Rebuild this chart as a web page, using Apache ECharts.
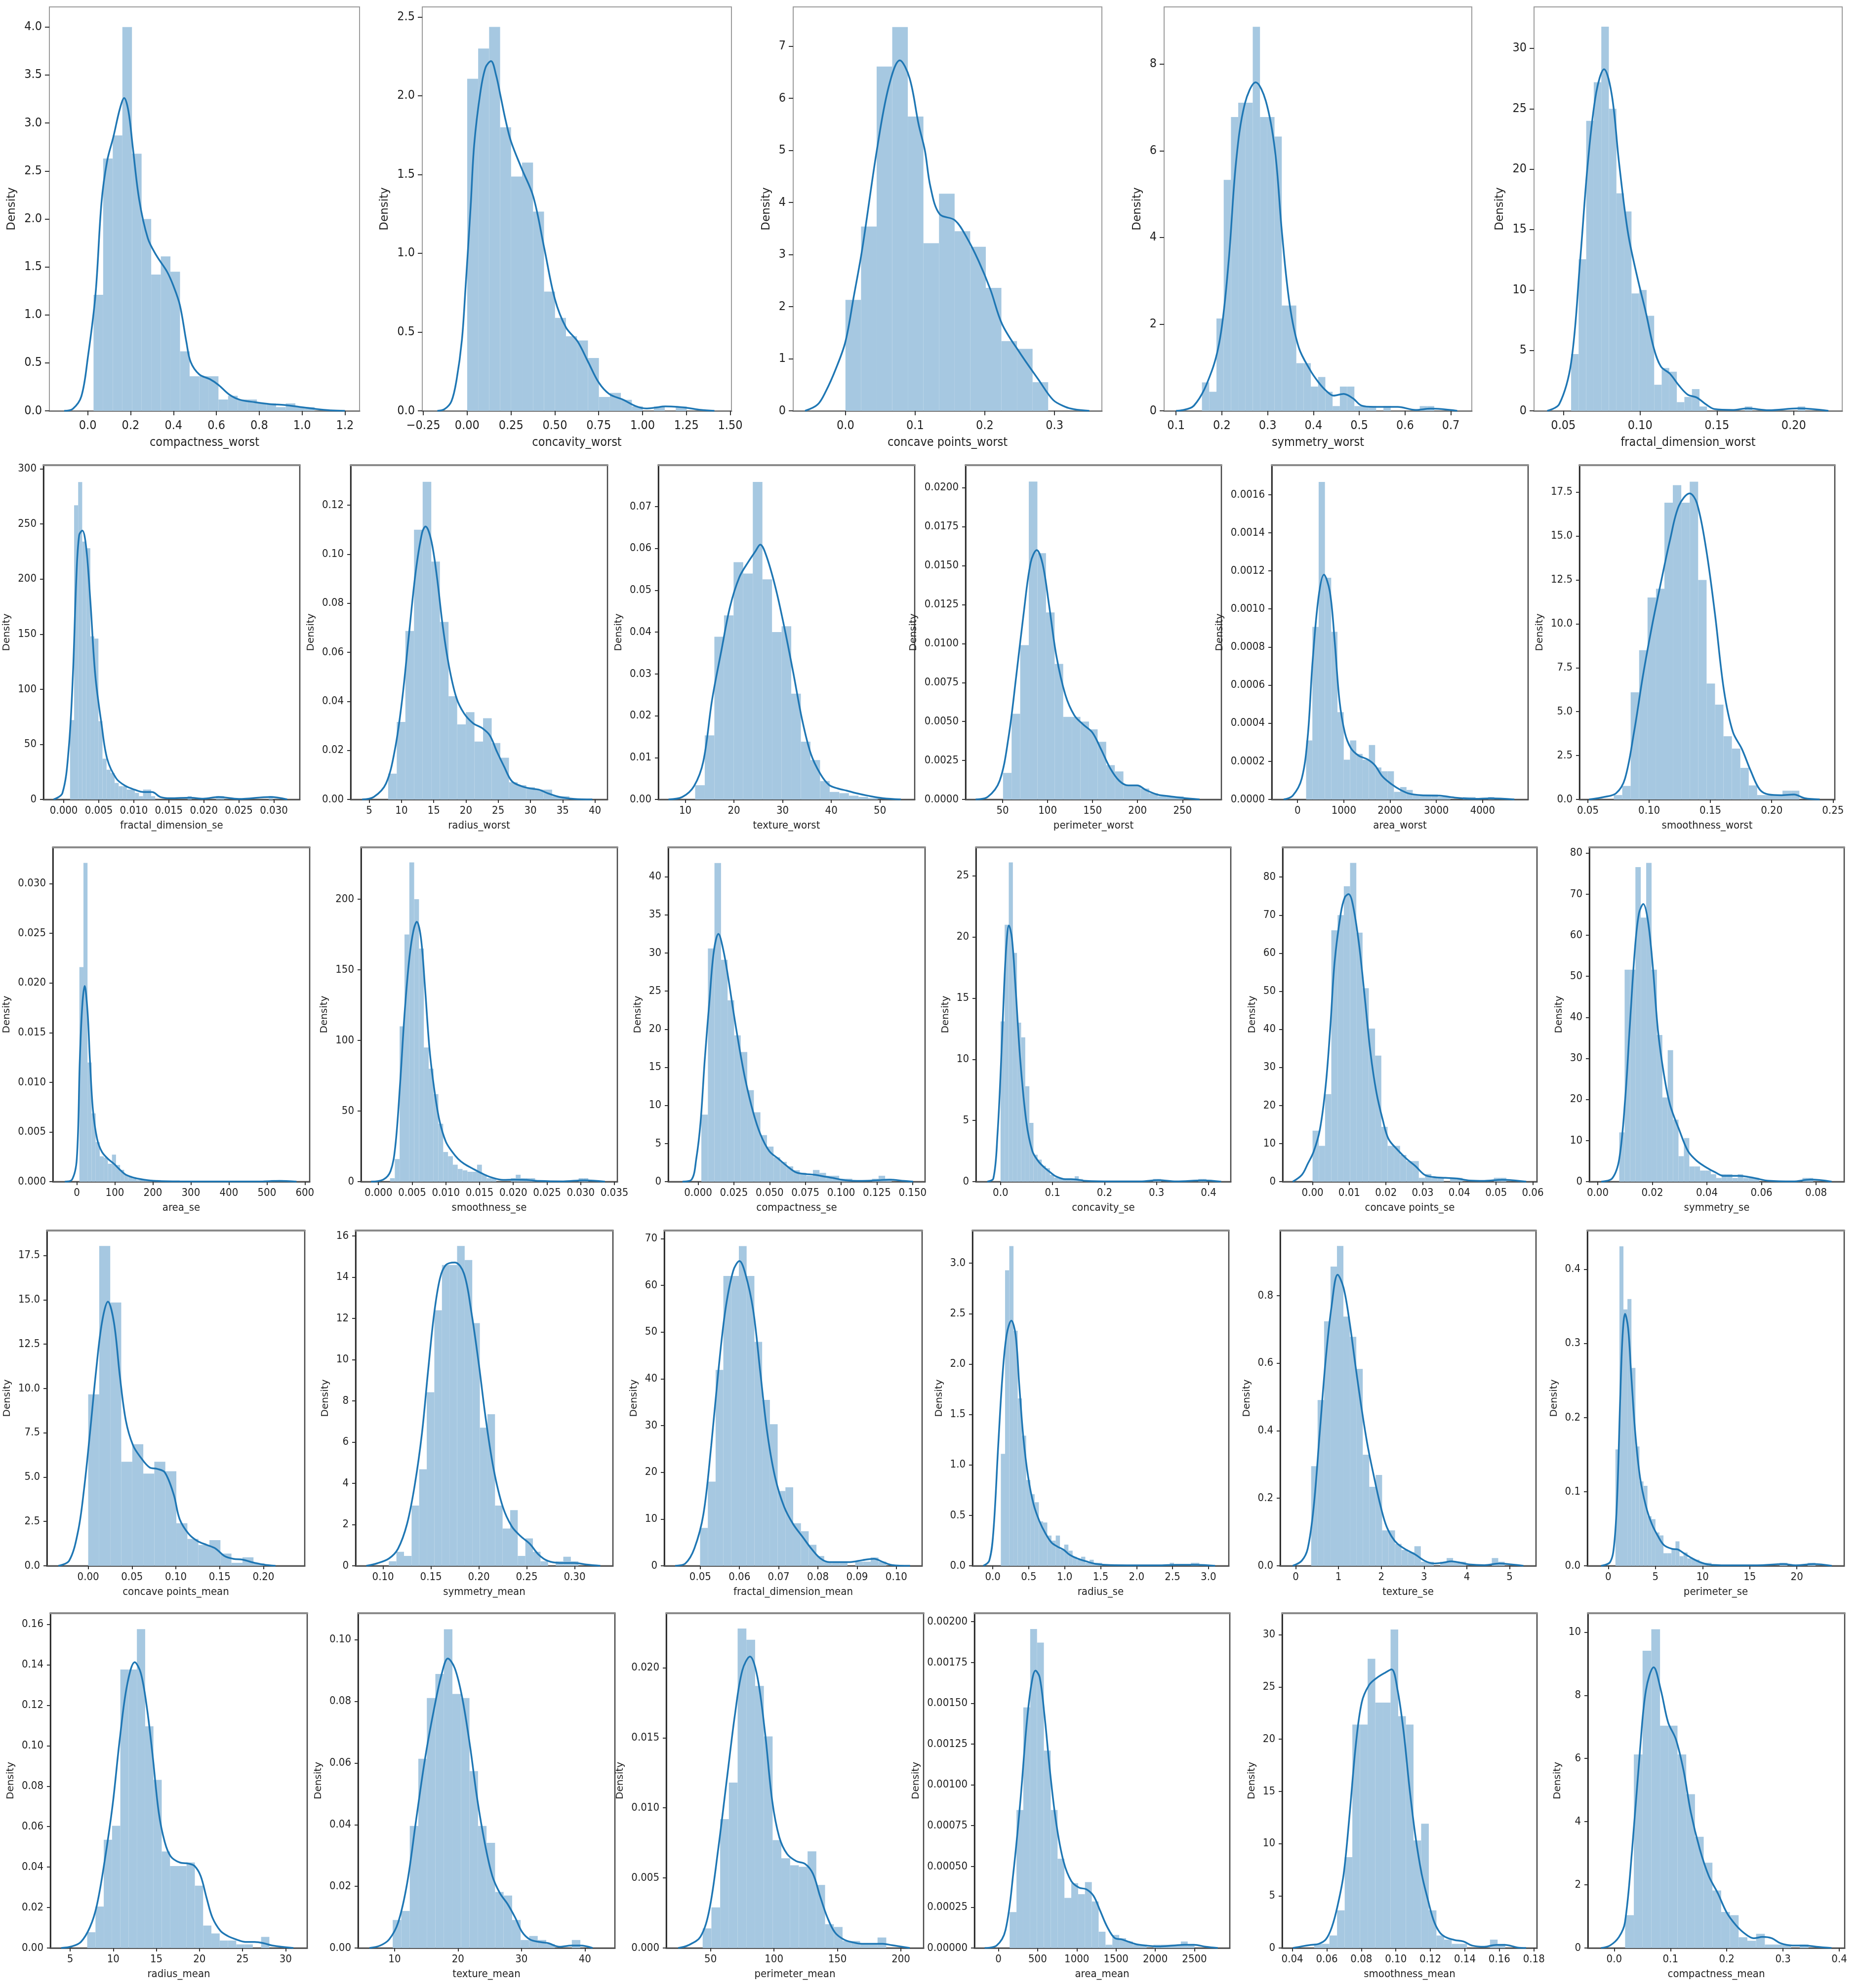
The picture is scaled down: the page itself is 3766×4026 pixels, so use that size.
<!DOCTYPE html>
<html>
<head>
<meta charset="utf-8">
<script src="https://cdn.jsdelivr.net/npm/echarts@6/dist/echarts.min.js"></script>
<style>
html, body { margin: 0; padding: 0; background: #fff; }
#chart { width: 3766px; height: 4026px; }
</style>
</head>
<body>
<div id="chart"></div>
<script>
// feature order, left to right, top to bottom
var features = ['compactness_worst', 'concavity_worst', 'concave points_worst', 'symmetry_worst', 'fractal_dimension_worst',
  'fractal_dimension_se', 'radius_worst', 'texture_worst', 'perimeter_worst', 'area_worst', 'smoothness_worst',
  'area_se', 'smoothness_se', 'compactness_se', 'concavity_se', 'concave points_se', 'symmetry_se',
  'concave points_mean', 'symmetry_mean', 'fractal_dimension_mean', 'radius_se', 'texture_se', 'perimeter_se',
  'radius_mean', 'texture_mean', 'perimeter_mean', 'area_mean', 'smoothness_mean', 'compactness_mean'];

// histogram bins: first edge and width
var binStart = [0.027, 0, 0, 0.1565, 0.05504, 0.000895, 7.93, 12.02, 50.41, 185.2, 0.07117, 6.802, 0.001713, 0.002252, 0, 0, 0.007882, 0, 0.106, 0.04996, 0.1115, 0.3602, 0.757, 6.981, 9.71, 43.79, 143.5, 0.05263, 0.01938];
var binWidth = [0.04483, 0.0626, 0.02238, 0.015853, 0.004918, 0.000579, 1.3386, 1.975, 9.562, 135.63, 0.006882, 10.708, 0.0007175, 0.00459, 0.00792, 0.001703, 0.001974, 0.012575, 0.00792, 0.001978, 0.05876, 0.1508, 0.4245, 0.9605, 1.344, 6.891, 87.3, 0.004431, 0.01552];

// bar heights (density)
var hist_compactness_worst = [1.21, 2.63, 2.87, 4.0, 2.68, 2.0, 1.42, 1.61, 1.45, 0.62, 0.36, 0.36, 0.36, 0.118, 0.157, 0.118, 0.118, 0.078, 0.078, 0.039, 0.078, 0.039, 0.039];
var hist_concavity_worst = [2.108, 2.30, 2.437, 1.80, 1.487, 1.576, 1.265, 0.757, 0.59, 0.473, 0.447, 0.335, 0.088, 0.114, 0.07, 0.028, 0, 0.028, 0, 0.028];
var hist_concave_points_worst = [2.13, 3.54, 6.61, 7.37, 5.65, 3.22, 4.17, 3.45, 3.15, 2.36, 1.34, 1.19, 0.55];
var hist_symmetry_worst = [0.656, 0.44, 2.13, 5.33, 6.78, 7.11, 7.11, 8.86, 6.78, 6.78, 6.33, 2.43, 2.43, 1.1, 1.1, 0.56, 0.78, 0.44, 0.11, 0.56, 0.56, 0.11, 0.11, 0.11, 0, 0.11, 0, 0, 0, 0, 0.11, 0.11];
var hist_fractal_dimension_worst = [4.70, 12.55, 24.0, 27.2, 31.8, 25.0, 18.0, 16.5, 9.72, 10.0, 7.87, 2.16, 3.55, 3.24, 0.72, 1.15, 1.8, 0.36, 0, 0, 0, 0, 0, 0.36, 0, 0, 0, 0, 0, 0, 0.36];
var hist_fractal_dimension_se = [72, 267, 288, 234, 228, 148, 146, 71, 37, 27, 24, 15, 12, 12, 9, 9, 6, 3, 9, 9, 3, 0, 0, 0, 0, 0, 0, 0, 0, 3, 0, 0, 0, 0, 0, 0, 3, 3, 0, 0, 0, 0, 0, 0, 0, 0, 0, 0, 0, 3];
var hist_radius_worst = [0.0105, 0.0316, 0.0687, 0.110, 0.1295, 0.097, 0.0724, 0.0421, 0.0306, 0.0356, 0.0236, 0.0331, 0.023, 0.017, 0.007, 0.0058, 0.005, 0.004, 0.004, 0.0013, 0.0013];
var hist_texture_worst = [0.0034, 0.0153, 0.0389, 0.044, 0.0567, 0.054, 0.0759, 0.0526, 0.040, 0.0414, 0.0253, 0.0138, 0.0094, 0.0044, 0.0018, 0.0015, 0.0009, 0.0006, 0.0003];
var hist_perimeter_worst = [0.0017, 0.0055, 0.0099, 0.0204, 0.0158, 0.0120, 0.0087, 0.0053, 0.0053, 0.0050, 0.0045, 0.0037, 0.0022, 0.0018, 0.0009, 0.0009, 0.0007, 0.0004, 0.0002, 0.0002, 0.0002];
var hist_area_worst = [0.00031, 0.000906, 0.001667, 0.001164, 0.00088, 0.000458, 0.000209, 0.00031, 0.000239, 0.000209, 0.000286, 0.000168, 0.000148, 0.000148, 0.00004, 0.000065, 0.00005, 0.000026, 0.000026, 0.000026, 0.000026, 0.000013, 0.000013, 0, 0, 0.000013, 0.000013, 0, 0, 0.000013];
var hist_smoothness_worst = [0.25, 0.77, 6.1, 8.5, 11.5, 12.0, 16.9, 17.9, 16.9, 18.1, 12.5, 6.6, 5.4, 3.6, 2.9, 1.8, 0.8, 0.25, 0.25, 0.25, 0.5, 0.5];
var hist_area_se = [0.0216, 0.0321, 0.012, 0.00687, 0.00398, 0.00255, 0.00242, 0.0018, 0.00272, 0.00168, 0.00119, 0.0007, 0.00057, 0.00033, 0.00016, 0.00016, 0.00016, 0.00016, 0, 0.00016,
  0, 0, 0, 0, 0, 0, 0, 0, 0, 0, 0, 0, 0, 0, 0, 0, 0, 0, 0, 0, 0, 0, 0, 0, 0, 0, 0, 0.00016, 0, 0.00016];
var hist_smoothness_se = [2.45, 16, 110, 175, 226, 200, 165, 95, 80, 62, 41, 21, 18, 12, 9, 8, 7, 7, 12, 5, 2.45, 2.45, 0, 0, 0, 2.45, 4.9, 2.45, 2.45, 2.45, 0, 0, 0, 0, 0, 0, 0, 0, 0, 2.45, 2.45];
var hist_compactness_se = [8.8, 30.6, 41.8, 29.1, 23.8, 19.2, 17.0, 12.0, 9.1, 6.1, 4.6, 3.2, 2.6, 2.0, 1.5, 1.15, 0.77, 1.53, 1.15, 0.77, 0.77, 0.38, 0.38, 0, 0, 0, 0.38, 0.77, 0.38];
var hist_concavity_se = [13.1, 21.0, 26.1, 18.7, 13.0, 11.8, 7.8, 4.8, 2.2, 1.8, 1.3, 1.1, 0.56, 0.33, 0.33, 0.22, 0.22, 0.22, 0.44, 0.22,
  0, 0, 0, 0, 0, 0, 0, 0, 0, 0, 0, 0, 0, 0, 0, 0, 0, 0.22, 0.22, 0, 0, 0, 0, 0, 0, 0, 0, 0, 0.22, 0.22];
var hist_concave_points_se = [13.4, 9.4, 23, 66, 70, 77.6, 83.7, 65.4, 50.8, 40.2, 33.1, 14.4, 9.4, 9.4, 7.0, 5.4, 5.4, 1.0, 2.0, 1.0, 1.0, 0, 1.0, 1.0, 0, 0, 0, 0, 0, 1.0, 1.0];
var hist_symmetry_se = [12, 51.6, 51.6, 76.6, 64.3, 77.6, 51.6, 35.7, 20.5, 32, 15.1, 6.2, 10.6, 3.7, 3.7, 2.7, 2.7, 1.8, 0.9, 1.8, 1.8, 0.9, 1.8, 0.9, 0.9, 0.9, 0, 0, 0, 0, 0, 0, 0, 0, 0.9, 0.9];
var hist_concave_points_mean = [9.67, 18.04, 14.85, 5.87, 6.86, 5.2, 5.87, 5.33, 2.4, 1.52, 1.18, 1.45, 0.69, 0.17, 0.48, 0.14];
var hist_symmetry_mean = [0.22, 0.68, 0.48, 2.92, 4.68, 8.42, 12.39, 14.59, 14.59, 15.51, 14.83, 11.77, 6.7, 7.35, 2.92, 1.81, 2.7, 0.48, 1.33, 0.68, 0.22, 0, 0.22, 0.44, 0.22];
var hist_fractal_dimension_mean = [8.1, 18.0, 41.9, 62, 62, 68.4, 62, 47.9, 35.5, 30.3, 16.0, 16.8, 9.1, 7.4, 4.5, 2.1, 0.89, 0.89, 0.89, 0, 0.89, 0.89, 1.78, 0.89];
var hist_radius_se = [1.11, 2.93, 3.17, 2.33, 1.66, 1.29, 0.85, 0.71, 0.63, 0.44, 0.43, 0.30, 0.25, 0.3, 0.16, 0.21, 0.15, 0.09, 0.06, 0.09, 0.03, 0.06, 0.03, 0.03,
  0, 0, 0, 0, 0, 0, 0, 0, 0, 0, 0, 0, 0, 0, 0, 0, 0.03, 0, 0, 0, 0, 0.03, 0.03];
var hist_texture_se = [0.295, 0.491, 0.724, 0.886, 0.947, 0.738, 0.678, 0.583, 0.329, 0.234, 0.269, 0.105, 0.105, 0.065, 0.047, 0.040, 0.058, 0.012, 0.012, 0, 0.012, 0.023, 0.012, 0.012, 0, 0, 0, 0, 0.023, 0.012];
var hist_perimeter_se = [0.157, 0.431, 0.346, 0.36, 0.267, 0.161, 0.114, 0.108, 0.067, 0.063, 0.045, 0.041, 0.017, 0.017, 0.023, 0.033, 0.013, 0.018, 0.01, 0.009, 0.0083, 0.0041, 0.0041, 0.0041,
  0, 0, 0, 0, 0, 0, 0, 0, 0, 0, 0, 0, 0, 0, 0, 0, 0, 0.0041, 0.0041, 0, 0, 0, 0, 0, 0.0041, 0.0041];
var hist_radius_mean = [0.0078, 0.0205, 0.0535, 0.0604, 0.1377, 0.1377, 0.1576, 0.1096, 0.0831, 0.0477, 0.0405, 0.0405, 0.0423, 0.0308, 0.0111, 0.0072, 0.0037, 0.0037, 0.0018, 0.0018, 0, 0.0055];
var hist_texture_mean = [0.0091, 0.012, 0.0396, 0.0614, 0.0811, 0.0889, 0.1034, 0.0824, 0.0811, 0.0574, 0.0396, 0.0341, 0.0182, 0.017, 0.0091, 0.0026, 0.0039, 0.0026, 0.0013, 0, 0, 0.0026];
var hist_perimeter_mean = [0.0014, 0.0029, 0.0092, 0.0118, 0.0228, 0.022, 0.0187, 0.0151, 0.0077, 0.0064, 0.0059, 0.0058, 0.0069, 0.0045, 0.0017, 0.0015, 0.0005, 0.0005, 0.00025, 0.00025, 0.00075];
var hist_area_mean = [0.00022, 0.000846, 0.001475, 0.001955, 0.001872, 0.00121, 0.000846, 0.000547, 0.000307, 0.000397, 0.00033, 0.000404, 0.000285, 0.0001, 0.00002, 0.00008, 0.00006, 0.00004, 0.00002, 0.00002, 0, 0.00002, 0.00002, 0.00002, 0.00002, 0.00004, 0.00002];
var hist_smoothness_mean = [0.4, 0.4, 1.2, 3.6, 8.7, 21.4, 21.4, 27.7, 23.5, 23.5, 30.5, 22.2, 21.4, 10.3, 11.9, 3.6, 1.2, 0.8, 0.4, 0.4, 0, 0, 0, 0.8, 0.4];
var hist_compactness_mean = [1.04, 6.13, 9.41, 10.09, 7.04, 7.04, 6.13, 4.87, 3.52, 2.7, 1.82, 1.14, 1.04, 0.34, 0.23, 0.45, 0.11, 0.11, 0.11, 0, 0.11];

// kde curves, [x, density]
var kde_compactness_worst = [[-0.11,0],[-0.07,0.02],[-0.03,0.15],[0,0.55],[0.036,1.21],[0.064,2.17],[0.09,2.6],[0.12,2.86],[0.15,3.15],[0.17,3.26],[0.19,3.12],[0.21,2.75],[0.24,2.2],[0.28,1.8],[0.32,1.62],[0.37,1.45],[0.4,1.3],[0.43,1.1],[0.46,0.72],[0.48,0.51],[0.52,0.38],[0.57,0.33],[0.61,0.27],[0.66,0.17],[0.71,0.115],[0.78,0.09],[0.85,0.07],[0.92,0.06],[0.99,0.04],[1.06,0.02],[1.13,0.005],[1.2,0]];
var kde_concavity_worst = [[-0.17,0],[-0.13,0.01],[-0.09,0.06],[-0.06,0.2],[-0.03,0.45],[-0.01,0.77],[0.02,1.3],[0.04,1.69],[0.075,2.02],[0.105,2.18],[0.136,2.22],[0.165,2.13],[0.19,2.0],[0.22,1.84],[0.25,1.71],[0.31,1.54],[0.377,1.36],[0.44,1.03],[0.5,0.71],[0.563,0.53],[0.63,0.44],[0.69,0.31],[0.75,0.18],[0.81,0.107],[0.89,0.07],[0.96,0.03],[1.02,0.015],[1.07,0.02],[1.13,0.028],[1.2,0.025],[1.26,0.018],[1.33,0.006],[1.41,0]];
var kde_concave_points_worst = [[-0.058,0],[-0.04,0.12],[-0.028,0.38],[-0.014,0.8],[0,1.33],[0.012,2.2],[0.024,3.1],[0.045,5.0],[0.062,6.22],[0.078,6.73],[0.092,6.39],[0.105,5.5],[0.114,5.0],[0.122,4.3],[0.135,3.78],[0.157,3.66],[0.174,3.33],[0.191,2.88],[0.208,2.33],[0.225,1.66],[0.251,1.1],[0.277,0.6],[0.298,0.21],[0.315,0.08],[0.328,0.03],[0.35,0]];
var kde_symmetry_worst = [[0.1,0],[0.139,0.12],[0.178,0.92],[0.198,1.8],[0.215,3.47],[0.231,5.74],[0.25,7.08],[0.274,7.58],[0.296,7.15],[0.316,6.01],[0.331,4.14],[0.348,2.46],[0.368,1.46],[0.394,0.92],[0.411,0.66],[0.427,0.47],[0.444,0.35],[0.466,0.39],[0.486,0.29],[0.505,0.12],[0.531,0.09],[0.584,0.09],[0.623,0.02],[0.656,0.05],[0.714,0]];
var kde_fractal_dimension_worst = [[0.0395,0],[0.0473,0.55],[0.0551,4.03],[0.0609,12.4],[0.066,20.6],[0.0714,26.35],[0.0765,28.27],[0.0816,26.1],[0.0862,20.6],[0.092,14.8],[0.0979,11.2],[0.1038,8.1],[0.1088,5.23],[0.1135,3.67],[0.1194,3.07],[0.1252,2.11],[0.131,1.34],[0.1369,1.1],[0.1427,0.55],[0.1486,0.14],[0.16,0.07],[0.17,0.2],[0.1837,0.05],[0.203,0.2],[0.2226,0]];
var kde_fractal_dimension_se = [[-0.00145,0],[-0.0002,5.6],[0.0007,45.7],[0.0013,112.6],[0.0018,202],[0.0022,240],[0.00265,244],[0.0032,228.6],[0.0038,179.6],[0.0045,112.6],[0.0054,68],[0.0062,36.8],[0.0075,19],[0.0088,12.3],[0.0101,8.9],[0.0114,6.7],[0.0126,6.7],[0.0138,2.2],[0.0152,1.1],[0.018,1.6],[0.0199,0.7],[0.0221,2.2],[0.025,0.4],[0.0295,2.2],[0.0319,0]];
var kde_radius_worst = [[3.9,0],[5.7,0.001],[7.6,0.0065],[9.0,0.0206],[10.1,0.0406],[11.1,0.0657],[12.2,0.0927],[13.2,0.1088],[13.73,0.1113],[14.6,0.1058],[15.5,0.0907],[16.4,0.0707],[17.35,0.0546],[18.5,0.0416],[19.7,0.0351],[21.1,0.0311],[22.5,0.0291],[23.7,0.0261],[24.8,0.0195],[25.9,0.0135],[27.1,0.0075],[28.5,0.0055],[29.9,0.0045],[31.3,0.004],[32.7,0.0025],[34.5,0.001],[36.8,0.0002],[39.6,0]];
var kde_texture_worst = [[6.55,0],[9.4,0.0006],[11.8,0.0032],[13.7,0.0091],[15.5,0.0238],[17.4,0.0355],[19.2,0.0461],[21.1,0.0531],[22.9,0.0567],[24.4,0.0593],[25.4,0.0609],[26.6,0.0584],[28.5,0.0508],[30.3,0.0414],[32.2,0.0302],[34.0,0.0191],[35.8,0.0109],[37.7,0.0062],[39.5,0.0035],[41.4,0.0026],[43.2,0.0021],[45.1,0.0015],[47.5,0.0009],[50.6,0.0003],[54.3,0]];
var kde_perimeter_worst = [[20,0],[33.4,0.00016],[46.7,0.0012],[56.6,0.004],[65.3,0.008],[73.3,0.0119],[81.2,0.0152],[87.9,0.016],[94.5,0.0151],[101.8,0.0124],[109.8,0.0092],[119.8,0.0067],[129.7,0.0054],[139.7,0.0048],[149.7,0.0043],[159.6,0.0032],[169.6,0.002],[179.6,0.0012],[189.5,0.0009],[199.5,0.0009],[209.5,0.0006],[222.8,0.0003],[236,0.0002],[249.3,0.0001],[269,0]];
var kde_area_worst = [[-298,0],[-104,0.00002],[91,0.00011],[220,0.00033],[324,0.00072],[453,0.00106],[570,0.00118],[699,0.00109],[803,0.00083],[906,0.00052],[1023,0.00035],[1152,0.00027],[1320,0.00023],[1515,0.00021],[1670,0.00018],[1838,0.00012],[2032,0.00008],[2227,0.00005],[2421,0.00003],[2680,0.000022],[3068,0.00002],[3392,0.00001],[3845,0.000003],[4168,0.000006],[4686,0]];
var kde_smoothness_worst = [[0.051,0],[0.0632,0.14],[0.073,0.35],[0.0803,1.19],[0.0877,3.85],[0.095,7.07],[0.1023,9.87],[0.1097,12.39],[0.117,14.77],[0.1243,16.73],[0.1331,17.43],[0.139,16.87],[0.1463,14.35],[0.1537,10.57],[0.161,6.23],[0.1683,3.85],[0.1757,2.87],[0.183,1.61],[0.1903,0.56],[0.1977,0.28],[0.2075,0.24],[0.2182,0.28],[0.227,0.07],[0.2392,0]];
var kde_area_se = [[-31.5,0],[-12.6,0.0002],[0,0.0023],[7.9,0.0122],[14.2,0.0176],[20.5,0.0197],[28.3,0.0171],[34.6,0.0122],[42.5,0.0072],[53.5,0.0043],[66.1,0.003],[81.9,0.0023],[97.6,0.0018],[113.4,0.0012],[129,0.0007],[152.8,0.00037],[176,0.0002],[208,0.00007],[271,0.00002],[428,0.00001],[491,0.00003],[531,0.00007],[578,0]];
var kde_smoothness_se = [[-0.0011,0],[0.0007,1.4],[0.0018,7.5],[0.0025,24.9],[0.0032,68.3],[0.0039,120.5],[0.0046,158.8],[0.0052,177.9],[0.00568,184],[0.0063,172.7],[0.0069,138],[0.0076,92.7],[0.0084,61.4],[0.0091,42.3],[0.01,28.3],[0.0109,21.4],[0.0118,16.2],[0.0127,12.7],[0.014,9.2],[0.0154,5.7],[0.0167,3.1],[0.0185,1.2],[0.0202,1.4],[0.022,1.2],[0.0238,0.5],[0.0274,0.2],[0.0305,1],[0.0336,0]];
var kde_compactness_se = [[-0.0109,0],[-0.0046,0.26],[-0.0013,3.0],[0.0017,7.8],[0.0046,15.9],[0.008,23.9],[0.0109,30.1],[0.0142,32.5],[0.0176,30.4],[0.021,26.8],[0.0247,22.3],[0.0289,17.5],[0.0331,13.3],[0.0385,9.1],[0.0436,6.2],[0.0498,4.0],[0.0561,3.0],[0.0624,2.0],[0.0687,1.2],[0.075,1.0],[0.0812,0.9],[0.0875,0.7],[0.0938,0.5],[0.1022,0.2],[0.1147,0.1],[0.1273,0.2],[0.1336,0.26],[0.144,0.1],[0.1503,0]];
var kde_concavity_se = [[-0.0254,0],[-0.0138,0.26],[-0.0058,3.9],[0.0012,9.9],[0.0069,15.9],[0.0115,19.5],[0.0161,20.94],[0.0219,19.9],[0.0288,15.9],[0.038,9.9],[0.0496,4.9],[0.0611,2.5],[0.0726,1.67],[0.0841,1.16],[0.0957,0.76],[0.1072,0.42],[0.1245,0.2],[0.136,0.2],[0.1476,0.16],[0.1648,0.06],[0.211,0.02],[0.2686,0.02],[0.3032,0.12],[0.3378,0.02],[0.3896,0.1],[0.4242,0]];
var kde_concave_points_se = [[-0.0054,0],[-0.0029,1.8],[-0.0013,4.7],[0.0003,7.9],[0.002,13.7],[0.0036,25.4],[0.0049,41.5],[0.006,57.6],[0.0077,70.5],[0.0088,74.7],[0.0098,75.5],[0.0109,73.1],[0.0126,62.8],[0.0142,48.6],[0.0158,33.7],[0.0174,23.4],[0.0191,16.3],[0.0207,11.2],[0.0232,8.3],[0.0256,6.0],[0.028,4.1],[0.0305,1.8],[0.0329,1.2],[0.0362,1.0],[0.0395,0.8],[0.0427,0.3],[0.0468,0.2],[0.0517,0.5],[0.0582,0]];
var kde_symmetry_se = [[0.0013,0],[0.0053,0.8],[0.0079,5.6],[0.0101,20.5],[0.0118,38.4],[0.0136,56.4],[0.0151,65.3],[0.0167,67.6],[0.0184,63.5],[0.0202,52.2],[0.0221,36.6],[0.0243,25.9],[0.0265,18.7],[0.0298,12.7],[0.0331,7.4],[0.0364,5.0],[0.0397,3.5],[0.043,2.3],[0.0462,1.4],[0.0517,1.4],[0.0572,0.9],[0.0627,0.2],[0.0715,0.05],[0.078,0.5],[0.0857,0]];
var kde_concave_points_mean = [[-0.034,0],[-0.0218,0.28],[-0.0116,1.94],[-0.0048,4.3],[0.002,7.48],[0.0089,10.95],[0.0157,13.72],[0.0225,14.9],[0.0294,13.72],[0.0362,10.67],[0.043,8.18],[0.0512,6.79],[0.0601,6.1],[0.0703,5.54],[0.0785,5.47],[0.0874,5.27],[0.0976,4.02],[0.1044,2.63],[0.1147,1.8],[0.1249,1.39],[0.1352,1.18],[0.1454,0.97],[0.1556,0.55],[0.1659,0.39],[0.1761,0.35],[0.1863,0.21],[0.2,0.07],[0.2137,0]];
var kde_symmetry_mean = [[0.0825,0],[0.0938,0.12],[0.1063,0.36],[0.1156,0.83],[0.125,2.03],[0.1331,3.93],[0.1406,6.43],[0.1469,9.41],[0.1531,12.15],[0.1594,13.94],[0.1656,14.59],[0.175,14.71],[0.1844,14.18],[0.1919,12.39],[0.2,9.77],[0.2075,7.03],[0.2156,4.65],[0.225,2.86],[0.2344,1.91],[0.2438,1.43],[0.2531,1.07],[0.2625,0.54],[0.2719,0.24],[0.2844,0.14],[0.3,0.14],[0.3125,0.06],[0.3269,0]];
var kde_fractal_dimension_mean = [[0.0436,0],[0.0462,0.5],[0.0485,3.7],[0.0508,11.0],[0.0528,25.7],[0.0546,41.5],[0.0564,54.7],[0.0584,63.1],[0.06,65.2],[0.0615,62.5],[0.0635,54.7],[0.0653,41.5],[0.0671,28.4],[0.0691,18.9],[0.0714,12.6],[0.0737,8.9],[0.076,6.3],[0.0783,3.7],[0.0806,1.6],[0.0829,0.8],[0.0852,0.8],[0.0882,0.8],[0.0913,1.2],[0.0943,1.5],[0.0966,0.8],[0.0989,0.16],[0.1035,0]];
var kde_radius_se = [[-0.133,0],[-0.05,0.05],[0.008,0.34],[0.075,1.19],[0.133,1.87],[0.192,2.29],[0.258,2.43],[0.317,2.29],[0.367,1.8],[0.425,1.27],[0.492,0.88],[0.567,0.61],[0.65,0.44],[0.733,0.32],[0.817,0.23],[0.9,0.19],[0.983,0.16],[1.067,0.11],[1.175,0.073],[1.3,0.044],[1.425,0.02],[1.633,0.007],[1.967,0.005],[2.3,0.005],[2.55,0.01],[2.842,0.01],[3.092,0]];
var kde_texture_se = [[-0.07,0],[0.14,0.015],[0.28,0.051],[0.42,0.175],[0.56,0.393],[0.7,0.611],[0.84,0.771],[0.98,0.862],[1.12,0.822],[1.26,0.72],[1.4,0.589],[1.54,0.465],[1.68,0.356],[1.82,0.269],[1.96,0.189],[2.1,0.124],[2.24,0.087],[2.38,0.065],[2.59,0.047],[2.8,0.033],[3.01,0.015],[3.22,0.007],[3.43,0.009],[3.64,0.013],[3.85,0.009],[4.06,0.004],[4.41,0.002],[4.76,0.007],[5.04,0.004],[5.32,0]];
var kde_perimeter_se = [[-0.76,0],[0.19,0.005],[0.63,0.03],[0.95,0.096],[1.27,0.229],[1.52,0.312],[1.78,0.34],[2.1,0.321],[2.41,0.262],[2.86,0.179],[3.37,0.119],[4.0,0.08],[4.63,0.056],[5.27,0.04],[5.9,0.028],[6.73,0.023],[7.37,0.022],[8.0,0.017],[8.76,0.011],[9.71,0.005],[10.67,0.0017],[12.57,0.0007],[15.75,0.0007],[18.6,0.0023],[19.87,0.0007],[21.78,0.0023],[23.7,0]];
var kde_radius_mean = [[3.96,0],[5.2,0.0008],[6.25,0.003],[7.3,0.0103],[8.1,0.0211],[9.0,0.0429],[9.93,0.0707],[10.76,0.1033],[11.6,0.1298],[12.5,0.1413],[13.2,0.1359],[13.9,0.119],[14.58,0.0948],[15.28,0.067],[15.97,0.0525],[16.67,0.0453],[17.7,0.0423],[18.75,0.0417],[19.44,0.0405],[20.14,0.0356],[20.83,0.0248],[21.5,0.0151],[22.43,0.0085],[23.26,0.006],[24.3,0.0042],[25.35,0.003],[26.4,0.003],[27.43,0.0024],[28.47,0.0012],[30.9,0]];
var kde_texture_mean = [[6.04,0],[7.74,0.0008],[9.15,0.0028],[10.57,0.0083],[11.98,0.021],[13.4,0.0416],[14.8,0.0614],[16.2,0.0773],[17.45,0.0891],[18.4,0.0939],[19.5,0.0907],[20.66,0.0812],[21.9,0.0654],[23.0,0.0487],[24.25,0.0337],[25.4,0.0234],[26.6,0.0178],[27.8,0.0143],[29.0,0.0099],[30.1,0.0052],[31.3,0.0028],[32.7,0.002],[34.15,0.0016],[36.0,0.0004],[37.9,0.0008],[39.3,0.0008],[41.2,0]];
var kde_perimeter_mean = [[24.5,0],[32.5,0.0002],[42,0.0008],[49,0.0027],[56.1,0.0071],[63.2,0.0123],[69.3,0.0167],[75,0.0198],[81.1,0.0208],[86.8,0.0194],[92.9,0.0154],[98.6,0.0105],[104.2,0.0079],[110.4,0.0067],[117.5,0.0062],[124.5,0.006],[130.7,0.0053],[136.3,0.0037],[142,0.0022],[148.1,0.0011],[155.2,0.0006],[162.3,0.0004],[169.3,0.0003],[178.8,0.0003],[185.8,0.0003],[192.9,0.0002],[207,0]];
var kde_area_mean = [[-175,0],[-23,0.000015],[91,0.00011],[190.5,0.00046],[282,0.00091],[358,0.00136],[419,0.00161],[473,0.0017],[526,0.00166],[587,0.00143],[663,0.00106],[739,0.00076],[831,0.00053],[930,0.00041],[1029,0.00037],[1120,0.00036],[1212,0.00032],[1296,0.00023],[1387,0.00013],[1486,0.00006],[1578,0.000052],[1669,0.000037],[1768,0.000022],[1883,0.000015],[2035,0.00001],[2226,0.000015],[2378,0.00002],[2492,0.00002],[2645,0.0000075],[2797,0]];
var kde_smoothness_mean = [[0.0403,0],[0.0455,0.16],[0.0507,0.3],[0.0553,0.4],[0.0594,0.82],[0.0629,2.0],[0.0663,4.1],[0.0698,7.14],[0.0733,12.99],[0.0767,19.3],[0.0802,23.5],[0.0844,25.16],[0.0889,25.86],[0.0934,26.33],[0.0975,26.68],[0.101,24.69],[0.1045,20.71],[0.1079,15.33],[0.1114,10.65],[0.1149,7.14],[0.1183,4.8],[0.1218,2.69],[0.1253,1.52],[0.1287,1.05],[0.1339,0.77],[0.1391,0.63],[0.1443,0.23],[0.1513,0.12],[0.1582,0.3],[0.1634,0.3],[0.1703,0.05],[0.1755,0]];
var kde_compactness_mean = [[-0.0234,0],[-0.0074,0.08],[0.0085,0.35],[0.0191,0.81],[0.0319,3.13],[0.0457,6.23],[0.0564,8.16],[0.0702,8.89],[0.083,8.16],[0.0957,7.15],[0.1096,6.61],[0.1234,5.61],[0.1362,4.29],[0.1521,3.13],[0.1681,2.28],[0.184,1.74],[0.2,1.12],[0.216,0.73],[0.2319,0.46],[0.2479,0.31],[0.2638,0.35],[0.2798,0.31],[0.2957,0.15],[0.317,0.08],[0.3383,0.08],[0.3596,0.04],[0.3862,0]];

var hists = [hist_compactness_worst, hist_concavity_worst, hist_concave_points_worst, hist_symmetry_worst, hist_fractal_dimension_worst,
  hist_fractal_dimension_se, hist_radius_worst, hist_texture_worst, hist_perimeter_worst, hist_area_worst, hist_smoothness_worst,
  hist_area_se, hist_smoothness_se, hist_compactness_se, hist_concavity_se, hist_concave_points_se, hist_symmetry_se,
  hist_concave_points_mean, hist_symmetry_mean, hist_fractal_dimension_mean, hist_radius_se, hist_texture_se, hist_perimeter_se,
  hist_radius_mean, hist_texture_mean, hist_perimeter_mean, hist_area_mean, hist_smoothness_mean, hist_compactness_mean];
var kdes = [kde_compactness_worst, kde_concavity_worst, kde_concave_points_worst, kde_symmetry_worst, kde_fractal_dimension_worst,
  kde_fractal_dimension_se, kde_radius_worst, kde_texture_worst, kde_perimeter_worst, kde_area_worst, kde_smoothness_worst,
  kde_area_se, kde_smoothness_se, kde_compactness_se, kde_concavity_se, kde_concave_points_se, kde_symmetry_se,
  kde_concave_points_mean, kde_symmetry_mean, kde_fractal_dimension_mean, kde_radius_se, kde_texture_se, kde_perimeter_se,
  kde_radius_mean, kde_texture_mean, kde_perimeter_mean, kde_area_mean, kde_smoothness_mean, kde_compactness_mean];

// axis extents
var xMin = [-0.179, -0.256, -0.075, 0.0739, 0.0309, -0.0029, 2.12, 4.46, 8.8, -557, 0.04315, -63, -0.00258, -0.0209, -0.0473, -0.00815, -0.00307, -0.0471, 0.0713, 0.04083, -0.283, -0.364, -2.22, 2.71, 4.25, 15.1, -305, 0.0341, -0.0468];
var xMax = [1.268, 1.507, 0.368, 0.7458, 0.2316, 0.0337, 41.95, 57.14, 293.2, 4984, 0.2515, 612.6, 0.03544, 0.1587, 0.4427, 0.06114, 0.0903, 0.2471, 0.34, 0.10657, 3.283, 5.616, 25.02, 32.5, 44.72, 217.9, 2950, 0.1818, 0.4096];
var yMax = [4.21, 2.564, 7.756, 9.32, 33.43, 303.4, 0.1363, 0.0799, 0.02145, 0.001755, 19.04, 0.03366, 236.7, 43.86, 27.33, 87.8, 81.4, 18.91, 16.26, 71.73, 3.324, 0.9927, 0.4524, 0.1655, 0.1086, 0.02389, 0.002052, 32.06, 10.6];

// tick labels
var xTickLabels = [
  ['0.0', '0.2', '0.4', '0.6', '0.8', '1.0', '1.2'],
  ['\u22120.25', '0.00', '0.25', '0.50', '0.75', '1.00', '1.25', '1.50'],
  ['0.0', '0.1', '0.2', '0.3'],
  ['0.1', '0.2', '0.3', '0.4', '0.5', '0.6', '0.7'],
  ['0.05', '0.10', '0.15', '0.20'],
  ['0.000', '0.005', '0.010', '0.015', '0.020', '0.025', '0.030'],
  ['5', '10', '15', '20', '25', '30', '35', '40'],
  ['10', '20', '30', '40', '50'],
  ['50', '100', '150', '200', '250'],
  ['0', '1000', '2000', '3000', '4000'],
  ['0.05', '0.10', '0.15', '0.20', '0.25'],
  ['0', '100', '200', '300', '400', '500', '600'],
  ['0.000', '0.005', '0.010', '0.015', '0.020', '0.025', '0.030', '0.035'],
  ['0.000', '0.025', '0.050', '0.075', '0.100', '0.125', '0.150'],
  ['0.0', '0.1', '0.2', '0.3', '0.4'],
  ['0.00', '0.01', '0.02', '0.03', '0.04', '0.05', '0.06'],
  ['0.00', '0.02', '0.04', '0.06', '0.08'],
  ['0.00', '0.05', '0.10', '0.15', '0.20'],
  ['0.10', '0.15', '0.20', '0.25', '0.30'],
  ['0.05', '0.06', '0.07', '0.08', '0.09', '0.10'],
  ['0.0', '0.5', '1.0', '1.5', '2.0', '2.5', '3.0'],
  ['0', '1', '2', '3', '4', '5'],
  ['0', '5', '10', '15', '20'],
  ['5', '10', '15', '20', '25', '30'],
  ['10', '20', '30', '40'],
  ['50', '100', '150', '200'],
  ['0', '500', '1000', '1500', '2000', '2500'],
  ['0.04', '0.06', '0.08', '0.10', '0.12', '0.14', '0.16', '0.18'],
  ['0.0', '0.1', '0.2', '0.3', '0.4']
];
var yTickLabels = [
  ['0.0', '0.5', '1.0', '1.5', '2.0', '2.5', '3.0', '3.5', '4.0'],
  ['0.0', '0.5', '1.0', '1.5', '2.0', '2.5'],
  ['0', '1', '2', '3', '4', '5', '6', '7'],
  ['0', '2', '4', '6', '8'],
  ['0', '5', '10', '15', '20', '25', '30'],
  ['0', '50', '100', '150', '200', '250', '300'],
  ['0.00', '0.02', '0.04', '0.06', '0.08', '0.10', '0.12'],
  ['0.00', '0.01', '0.02', '0.03', '0.04', '0.05', '0.06', '0.07'],
  ['0.0000', '0.0025', '0.0050', '0.0075', '0.0100', '0.0125', '0.0150', '0.0175', '0.0200'],
  ['0.0000', '0.0002', '0.0004', '0.0006', '0.0008', '0.0010', '0.0012', '0.0014', '0.0016'],
  ['0.0', '2.5', '5.0', '7.5', '10.0', '12.5', '15.0', '17.5'],
  ['0.000', '0.005', '0.010', '0.015', '0.020', '0.025', '0.030'],
  ['0', '50', '100', '150', '200'],
  ['0', '5', '10', '15', '20', '25', '30', '35', '40'],
  ['0', '5', '10', '15', '20', '25'],
  ['0', '10', '20', '30', '40', '50', '60', '70', '80'],
  ['0', '10', '20', '30', '40', '50', '60', '70', '80'],
  ['0.0', '2.5', '5.0', '7.5', '10.0', '12.5', '15.0', '17.5'],
  ['0', '2', '4', '6', '8', '10', '12', '14', '16'],
  ['0', '10', '20', '30', '40', '50', '60', '70'],
  ['0.0', '0.5', '1.0', '1.5', '2.0', '2.5', '3.0'],
  ['0.0', '0.2', '0.4', '0.6', '0.8'],
  ['0.0', '0.1', '0.2', '0.3', '0.4'],
  ['0.00', '0.02', '0.04', '0.06', '0.08', '0.10', '0.12', '0.14', '0.16'],
  ['0.00', '0.02', '0.04', '0.06', '0.08', '0.10'],
  ['0.000', '0.005', '0.010', '0.015', '0.020'],
  ['0.00000', '0.00025', '0.00050', '0.00075', '0.00100', '0.00125', '0.00150', '0.00175', '0.00200'],
  ['0', '5', '10', '15', '20', '25', '30'],
  ['0', '2', '4', '6', '8', '10']
];

// ---- layout (pixels) ----
var rowTop = [14, 942, 1716, 2492, 3267];
var rowBottom = [832, 1619, 2393, 3171, 3945];
var colLeft = [
  [100, 855, 1606, 2357, 3106],
  [88, 710, 1333, 1955, 2575, 3198],
  [107, 731, 1353, 1976, 2597, 3218],
  [95, 720, 1345, 1969, 2592, 3214],
  [102, 725, 1349, 1973, 2596, 3215]
];
var colRight = [
  [728, 1481, 2231, 2980, 3730],
  [607, 1230, 1852, 2473, 3094, 3715],
  [627, 1250, 1873, 2492, 3112, 3734],
  [617, 1241, 1867, 2488, 3110, 3734],
  [622, 1245, 1870, 2490, 3112, 3735]
];

var tickFont = "'DejaVu Sans Condensed', 'Liberation Sans Narrow', 'DejaVu Sans', sans-serif";
var densFont = "'DejaVu Sans', sans-serif";
var textColor = '#222';
var barColor = '#a6c8e1';
var lineColor = '#1f77b4';

function toNum(s) { return parseFloat(s.replace('\u2212', '-')); }

var ctx = document.createElement('canvas').getContext('2d');
function textWidth(s, size) {
  ctx.font = size + 'px ' + tickFont;
  return ctx.measureText(s).width;
}

function labelFormatter(labels) {
  var vals = labels.map(toNum);
  return function (v) {
    var best = 0;
    for (var k = 1; k < vals.length; k++) {
      if (Math.abs(vals[k] - v) < Math.abs(vals[best] - v)) best = k;
    }
    return labels[best];
  };
}

function renderBin(params, api) {
  var top = api.coord([api.value(0), api.value(2)]);
  var base = api.coord([api.value(1), 0]);
  return {
    type: 'rect',
    shape: { x: top[0], y: top[1], width: base[0] - top[0], height: base[1] - top[1] },
    style: { fill: barColor }
  };
}

var grids = [], xAxes = [], yAxes = [], series = [];
var idx = 0;
for (var r = 0; r < colLeft.length; r++) {
  var first = r === 0;
  var tickSize = first ? 25 : 22;
  var nameSize = first ? 25 : 22;
  var densSize = first ? 23 : 20;
  for (var c = 0; c < colLeft[r].length; c++) {
    var i = idx++;
    var left = colLeft[r][c], right = colRight[r][c];
    grids.push({
      left: left, top: rowTop[r], width: right - left, height: rowBottom[r] - rowTop[r],
      show: true, borderColor: first ? '#9a9a9a' : '#444', borderWidth: first ? 2 : 2.5
    });

    var xl = xTickLabels[i], yl = yTickLabels[i];
    var maxW = 0;
    yl.forEach(function (s) { maxW = Math.max(maxW, textWidth(s, tickSize)); });

    xAxes.push({
      type: 'value', gridIndex: i, min: xMin[i], max: xMax[i], position: 'bottom',
      splitLine: { show: false },
      axisLine: { show: true, onZero: false, lineStyle: { color: first ? '#777' : '#555', width: 3 } },
      axisTick: { show: true, customValues: xl.map(toNum), length: first ? 9 : 7, lineStyle: { color: '#333', width: 2 } },
      axisLabel: { customValues: xl.map(toNum), formatter: labelFormatter(xl), fontSize: tickSize, fontFamily: tickFont, color: textColor, margin: first ? 18 : 12 },
      name: features[i], nameLocation: 'middle', nameGap: first ? 52 : 42,
      nameTextStyle: { fontSize: nameSize, fontFamily: tickFont, color: textColor }
    });
    xAxes.push({
      type: 'value', gridIndex: i, min: xMin[i], max: xMax[i], position: 'top',
      splitLine: { show: false }, axisTick: { show: false }, axisLabel: { show: false },
      axisLine: { show: !first, onZero: false, lineStyle: { color: '#8a8a8a', width: 4 } }
    });
    yAxes.push({
      type: 'value', gridIndex: i, min: 0, max: yMax[i],
      splitLine: { show: false },
      axisLine: { show: true, onZero: false, lineStyle: { color: first ? '#9a9a9a' : '#222', width: first ? 2 : 2.5 } },
      axisTick: { show: true, customValues: yl.map(toNum), length: first ? 9 : 7, lineStyle: { color: '#333', width: 2 } },
      axisLabel: { customValues: yl.map(toNum), formatter: labelFormatter(yl), fontSize: tickSize, fontFamily: tickFont, color: textColor, margin: first ? 15 : 14 },
      name: 'Density', nameLocation: 'middle', nameRotate: 90,
      nameGap: Math.round(maxW + (first ? 28 : 26)),
      nameTextStyle: { fontSize: densSize, fontFamily: densFont, color: textColor }
    });

    var bins = hists[i].map(function (h, k) {
      return [binStart[i] + k * binWidth[i], binStart[i] + (k + 1) * binWidth[i], h];
    });
    series.push({
      type: 'custom', xAxisIndex: 2 * i, yAxisIndex: i, renderItem: renderBin,
      encode: { x: [0, 1], y: 2 }, data: bins, silent: true, z: 2
    });
    series.push({
      type: 'line', xAxisIndex: 2 * i, yAxisIndex: i, data: kdes[i],
      smooth: 0.35, showSymbol: false, silent: true, z: 3,
      lineStyle: { color: lineColor, width: 3.5 }
    });
  }
}

var chart = echarts.init(document.getElementById('chart'), null, { renderer: 'canvas' });
chart.setOption({
  animation: false,
  backgroundColor: '#fff',
  grid: grids,
  xAxis: xAxes,
  yAxis: yAxes,
  series: series
});
</script>
</body>
</html>
